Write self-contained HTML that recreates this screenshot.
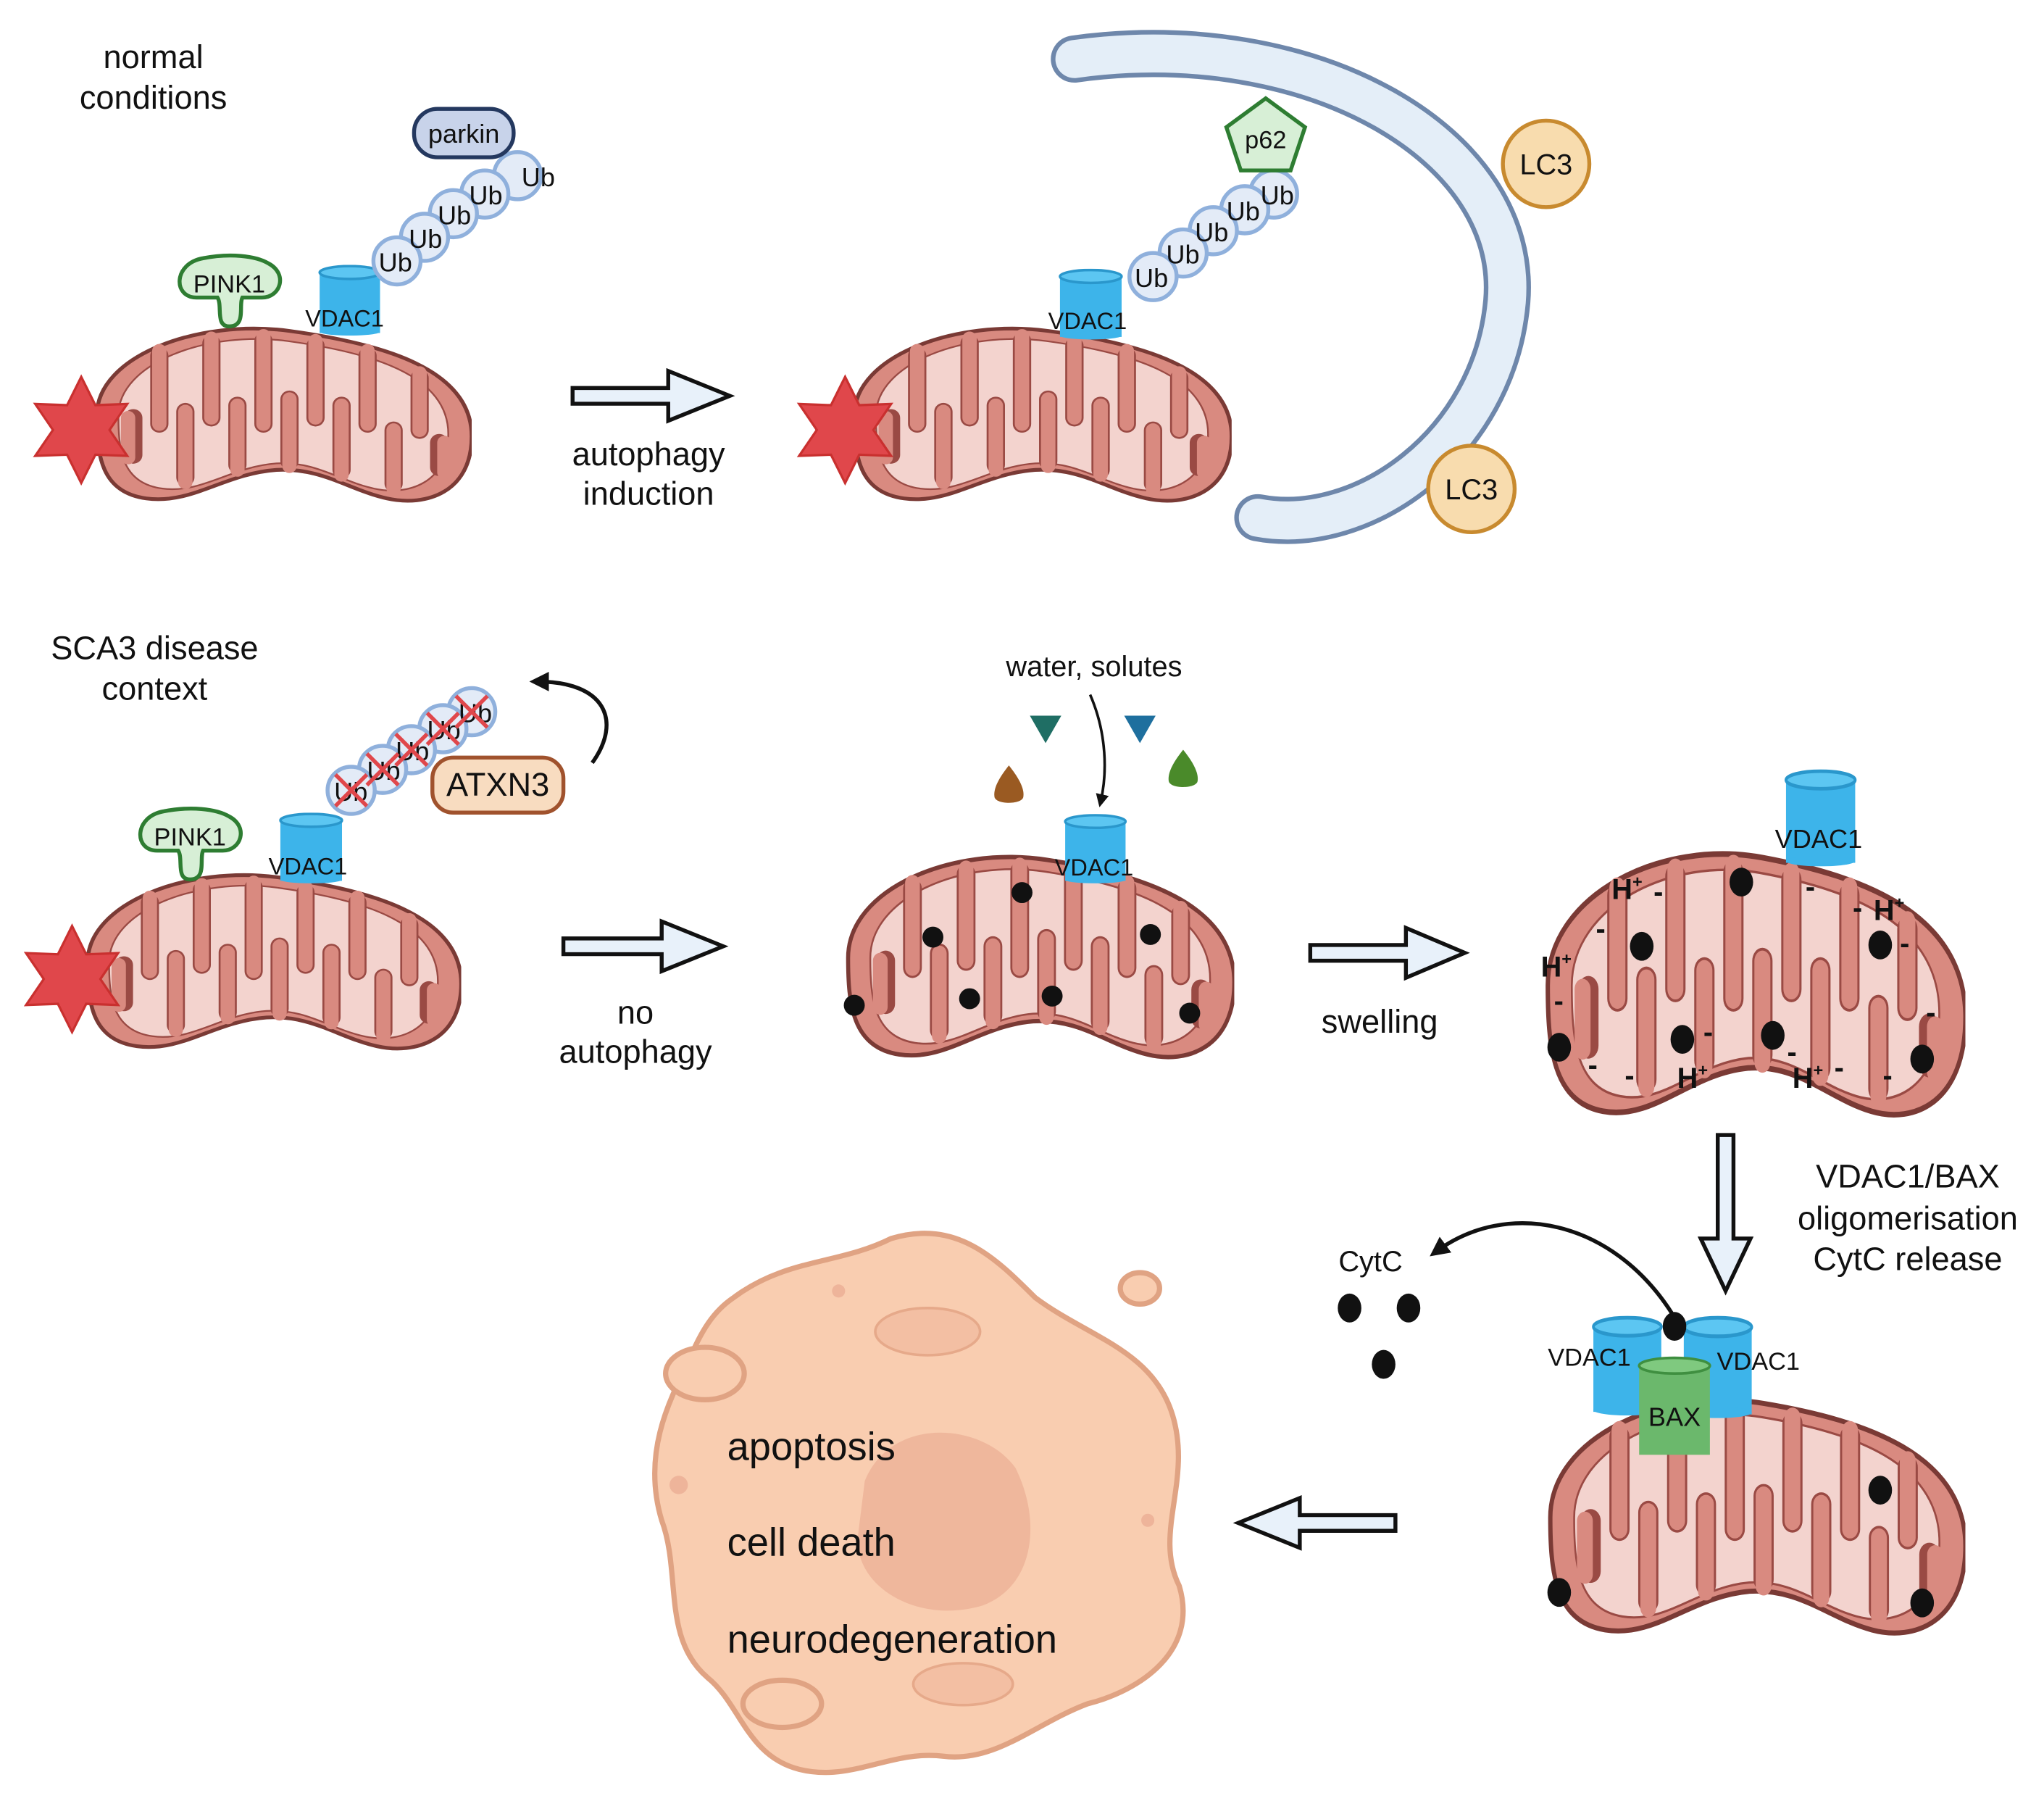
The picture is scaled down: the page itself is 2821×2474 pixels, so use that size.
<!DOCTYPE html>
<html><head><meta charset="utf-8"><style>
html,body{margin:0;padding:0;background:#fff}
svg{display:block}
text{font-family:"Liberation Sans",sans-serif;fill:#111}
</style></head><body>
<svg width="2821" height="2474" viewBox="0 0 1560 1368" xmlns="http://www.w3.org/2000/svg">
<defs>
<symbol id="mito" viewBox="0 0 300 150" preserveAspectRatio="none">
<path d="M12,78 C12,30 90,0 160,10 C230,20 300,40 300,95 C300,140 265,152 235,145 C205,138 185,120 150,122 C110,125 85,150 50,145 C15,140 12,110 12,78 Z" fill="#d98a80" stroke="#7a3a35" stroke-width="3"/>
<path transform="translate(18,9.4) scale(0.88)" d="M12,78 C12,30 90,0 160,10 C230,20 300,40 300,95 C300,140 265,152 235,145 C205,138 185,120 150,122 C110,125 85,150 50,145 C15,140 12,110 12,78 Z" fill="#f3d3ce" stroke="#9a4a44" stroke-width="1.5"/>
<g stroke-linecap="round" fill="none">
<g stroke="#9a4a44" stroke-width="14">
<path d="M60,30 V85 M100,20 V80 M140,18 V85 M180,22 V80 M220,30 V85 M260,48 V90 M40,80 V110 M80,128 V75 M120,118 V70 M160,115 V65 M200,122 V70 M240,133 V90 M275,120 V100"/>
</g>
<g stroke="#d98a80" stroke-width="11">
<path d="M60,26 V85 M100,16 V80 M140,14 V85 M180,18 V80 M220,26 V85 M260,44 V90 M36,80 V112 M80,132 V75 M120,122 V70 M160,119 V65 M200,126 V70 M240,137 V90 M279,124 V100"/>
</g>
</g>
</symbol>
<symbol id="star" viewBox="-50 -50 100 100">
<polygon points="0,-45 12,-21 39,-22 24,0 39,22 12,21 0,45 -12,21 -39,22 -24,0 -39,-22 -12,-21" fill="#e0474b" stroke="#c9302f" stroke-width="2"/>
</symbol>
<symbol id="vdac" viewBox="0 0 50 55" preserveAspectRatio="none">
<rect x="1" y="5" width="48" height="48" fill="#3db4ea"/>
<ellipse cx="25" cy="6" rx="24" ry="5" fill="#5cc6f2" stroke="#2a97cc" stroke-width="2"/>
<ellipse cx="25" cy="52" rx="24" ry="3" fill="#3db4ea"/>
</symbol>
<symbol id="pink" viewBox="0 0 90 60">
<path d="M20,34 C2,34 2,8 25,4 C45,0 65,2 75,8 C90,16 84,34 70,34 L55,34 C52,40 58,56 45,56 C34,56 40,40 36,34 Z" fill="#d7efd6" stroke="#2e7d32" stroke-width="3"/>
</symbol>
<marker id="ah" viewBox="0 0 10 10" refX="6" refY="5" markerWidth="5" markerHeight="5" orient="auto"><path d="M0,0 L10,5 L0,10 Z" fill="#111"/></marker>
</defs>

<text x="117" y="52" font-size="25" text-anchor="middle">normal</text>
<text x="117" y="83" font-size="25" text-anchor="middle">conditions</text>

<use href="#mito" x="62" y="243" width="298" height="142"/>
<use href="#star" x="17" y="283" width="90" height="90"/>
<use href="#pink" x="130" y="193" width="90" height="60"/>
<text x="175" y="223" font-size="19" text-anchor="middle">PINK1</text>
<use href="#vdac" x="243" y="202" width="48" height="54"/>
<text x="263" y="249" font-size="18" text-anchor="middle">VDAC1</text>
<g fill="#e3ebf7" stroke="#8fb0dc" stroke-width="3">
<circle cx="395" cy="134" r="18"/><circle cx="370" cy="148" r="18"/><circle cx="346" cy="163" r="18"/><circle cx="324" cy="181" r="18"/><circle cx="303" cy="199" r="18"/>
</g>
<g font-size="20"><text x="398" y="142">Ub</text><text x="358" y="156">Ub</text><text x="334" y="171">Ub</text><text x="312" y="189">Ub</text><text x="289" y="207">Ub</text></g>
<rect x="316" y="83" width="76" height="37" rx="18" fill="#c8d3ea" stroke="#24385f" stroke-width="3"/>
<text x="354" y="109" font-size="20" text-anchor="middle">parkin</text>

<path d="M437,296 H510 V283 L557,302 L510,321 V308 H437 Z" fill="#e8f1fa" stroke="#111" stroke-width="3"/>
<text x="495" y="355" font-size="25" text-anchor="middle">autophagy</text>
<text x="495" y="385" font-size="25" text-anchor="middle">induction</text>

<use href="#mito" x="640" y="243" width="300" height="142"/>
<use href="#star" x="600" y="283" width="90" height="90"/>
<use href="#vdac" x="808" y="205" width="49" height="54"/>
<text x="830" y="251" font-size="18" text-anchor="middle">VDAC1</text>
<path d="M820,45 C1000,20 1160,110 1150,230 C1140,340 1040,410 960,395" fill="none" stroke="#6e87ab" stroke-width="36" stroke-linecap="round"/>
<path d="M820,45 C1000,20 1160,110 1150,230 C1140,340 1040,410 960,395" fill="none" stroke="#e4eef8" stroke-width="29" stroke-linecap="round"/>
<g fill="#e3ebf7" stroke="#8fb0dc" stroke-width="3">
<circle cx="972" cy="148" r="18"/><circle cx="950" cy="160" r="18"/><circle cx="926" cy="176" r="18"/><circle cx="903" cy="193" r="18"/><circle cx="880" cy="211" r="18"/>
</g>
<g font-size="20"><text x="962" y="156">Ub</text><text x="936" y="168">Ub</text><text x="912" y="184">Ub</text><text x="890" y="201">Ub</text><text x="866" y="219">Ub</text></g>
<polygon points="966,75 996,97 985,130 947,130 936,97" fill="#d7efd6" stroke="#2e7d32" stroke-width="3"/>
<text x="966" y="113" font-size="19" text-anchor="middle">p62</text>
<circle cx="1180" cy="125" r="33" fill="#f8dcae" stroke="#c88a2f" stroke-width="3"/>
<text x="1180" y="133" font-size="22" text-anchor="middle">LC3</text>
<circle cx="1123" cy="373" r="33" fill="#f8dcae" stroke="#c88a2f" stroke-width="3"/>
<text x="1123" y="381" font-size="22" text-anchor="middle">LC3</text>

<text x="118" y="503" font-size="25" text-anchor="middle">SCA3 disease</text>
<text x="118" y="534" font-size="25" text-anchor="middle">context</text>
<use href="#mito" x="55" y="660" width="297" height="143"/>
<use href="#star" x="10" y="702" width="90" height="90"/>
<use href="#pink" x="100" y="615" width="90" height="60"/>
<text x="145" y="645" font-size="19" text-anchor="middle">PINK1</text>
<use href="#vdac" x="213" y="620" width="49" height="54"/>
<text x="235" y="667" font-size="18" text-anchor="middle">VDAC1</text>
<g fill="#e3ebf7" stroke="#8fb0dc" stroke-width="3">
<circle cx="360" cy="543" r="18"/><circle cx="338" cy="556" r="18"/><circle cx="314" cy="572" r="18"/><circle cx="292" cy="587" r="18"/><circle cx="268" cy="603" r="18"/>
</g>
<g font-size="20"><text x="350" y="551">Ub</text><text x="326" y="564">Ub</text><text x="302" y="580">Ub</text><text x="280" y="595">Ub</text><text x="255" y="611">Ub</text></g>
<g stroke="#e0474b" stroke-width="3">
<path d="M348,531 L372,555 M372,531 L348,555 M326,544 L350,568 M350,544 L326,568 M302,560 L326,584 M326,560 L302,584 M280,575 L304,599 M304,575 L280,599 M256,591 L280,615 M280,591 L256,615"/>
</g>
<rect x="330" y="578" width="100" height="42" rx="16" fill="#f8dcc0" stroke="#a0522d" stroke-width="3"/>
<text x="380" y="607" font-size="25" text-anchor="middle">ATXN3</text>
<path d="M452,582 C475,550 462,520 410,520" fill="none" stroke="#111" stroke-width="3" marker-end="url(#ah)"/>

<path d="M430,716 H505 V703 L552,722 L505,741 V728 H430 Z" fill="#e8f1fa" stroke="#111" stroke-width="3"/>
<text x="485" y="781" font-size="25" text-anchor="middle">no</text>
<text x="485" y="811" font-size="25" text-anchor="middle">autophagy</text>

<text x="835" y="516" font-size="22" text-anchor="middle">water, solutes</text>
<polygon points="786,546 810,546 798,567" fill="#1f6e64"/>
<polygon points="858,546 882,546 870,567" fill="#1e6f9e"/>
<path d="M770,584 C778,594 782,602 781,608 C780,614 760,614 759,608 C758,602 762,594 770,584 Z" fill="#9a5a22"/>
<path d="M903,572 C911,582 915,590 914,596 C913,602 893,602 892,596 C891,590 895,582 903,572 Z" fill="#4a8a2a"/>
<path d="M832,530 C845,560 845,590 840,612" fill="none" stroke="#111" stroke-width="2" marker-end="url(#ah)"/>
<use href="#mito" x="635" y="645" width="307" height="165"/>
<use href="#vdac" x="812" y="621" width="48" height="53"/>
<text x="835" y="668" font-size="18" text-anchor="middle">VDAC1</text>
<g fill="#111"><circle cx="780" cy="681" r="8"/><circle cx="712" cy="715" r="8"/><circle cx="878" cy="713" r="8"/><circle cx="652" cy="767" r="8"/><circle cx="740" cy="762" r="8"/><circle cx="803" cy="760" r="8"/><circle cx="908" cy="773" r="8"/></g>

<path d="M1000,721 H1073 V708 L1118,727 L1073,746 V733 H1000 Z" fill="#e8f1fa" stroke="#111" stroke-width="3"/>
<text x="1053" y="788" font-size="25" text-anchor="middle">swelling</text>

<use href="#mito" x="1168" y="640" width="332" height="215"/>
<use href="#vdac" x="1362" y="587" width="55" height="74"/>
<text x="1388" y="647" font-size="20" text-anchor="middle">VDAC1</text>
<g fill="#111"><ellipse cx="1329" cy="673" rx="9" ry="11"/><ellipse cx="1253" cy="722" rx="9" ry="11"/><ellipse cx="1435" cy="721" rx="9" ry="11"/><ellipse cx="1190" cy="799" rx="9" ry="11"/><ellipse cx="1284" cy="793" rx="9" ry="11"/><ellipse cx="1353" cy="790" rx="9" ry="11"/><ellipse cx="1467" cy="808" rx="9" ry="11"/></g>
<g font-size="22" font-weight="bold">
<text x="1230" y="686">H<tspan font-size="13" dy="-9">+</tspan></text>
<text x="1430" y="702">H<tspan font-size="13" dy="-9">+</tspan></text>
<text x="1176" y="745">H<tspan font-size="13" dy="-9">+</tspan></text>
<text x="1280" y="830">H<tspan font-size="13" dy="-9">+</tspan></text>
<text x="1368" y="830">H<tspan font-size="13" dy="-9">+</tspan></text>
<text x="1262" y="688">-</text><text x="1378" y="684">-</text><text x="1414" y="700">-</text><text x="1218" y="716">-</text><text x="1450" y="727">-</text><text x="1186" y="771">-</text><text x="1470" y="780">-</text><text x="1300" y="795">-</text><text x="1364" y="810">-</text><text x="1212" y="820">-</text><text x="1240" y="828">-</text><text x="1400" y="822">-</text><text x="1437" y="828">-</text>
</g>

<path d="M1311,866 H1323 V945 H1336 L1317,985 L1298,945 H1311 Z" fill="#e8f1fa" stroke="#111" stroke-width="3"/>
<text x="1456" y="906" font-size="25" text-anchor="middle">VDAC1/BAX</text>
<text x="1456" y="938" font-size="25" text-anchor="middle">oligomerisation</text>
<text x="1456" y="969" font-size="25" text-anchor="middle">CytC release</text>

<text x="1046" y="970" font-size="22" text-anchor="middle">CytC</text>
<g fill="#111"><ellipse cx="1030" cy="998" rx="9" ry="11"/><ellipse cx="1075" cy="998" rx="9" ry="11"/><ellipse cx="1056" cy="1041" rx="9" ry="11"/></g>
<path d="M1276,1002 C1230,930 1150,915 1096,955" fill="none" stroke="#111" stroke-width="3" marker-end="url(#ah)"/>

<use href="#mito" x="1170" y="1058" width="330" height="192"/>
<g fill="#111"><ellipse cx="1435" cy="1137" rx="9" ry="11"/><ellipse cx="1190" cy="1215" rx="9" ry="11"/><ellipse cx="1467" cy="1223" rx="9" ry="11"/></g>
<use href="#vdac" x="1215" y="1004" width="54" height="76"/>
<use href="#vdac" x="1284" y="1004" width="54" height="78"/>
<rect x="1251" y="1042" width="54" height="68" fill="#6bb86c"/>
<ellipse cx="1278" cy="1042" rx="27" ry="6" fill="#7fc97f" stroke="#3f8f40" stroke-width="2"/>
<text x="1278" y="1088" font-size="20" text-anchor="middle">BAX</text>
<ellipse cx="1278" cy="1012" rx="9" ry="11" fill="#111"/>
<text x="1213" y="1042" font-size="19" text-anchor="middle">VDAC1</text>
<text x="1342" y="1045" font-size="19" text-anchor="middle">VDAC1</text>

<path d="M1065,1156 H992 V1143 L945,1162 L992,1181 V1168 H1065 Z" fill="#e8f1fa" stroke="#111" stroke-width="3"/>

<path d="M560,990 C600,960 640,965 680,945 C730,930 760,960 790,990 C830,1020 880,1030 895,1080 C910,1130 880,1170 900,1210 C915,1260 870,1290 830,1300 C790,1315 760,1345 720,1340 C680,1335 650,1360 610,1350 C570,1340 565,1300 540,1280 C505,1250 520,1200 505,1160 C490,1110 510,1070 525,1040 C535,1015 545,1000 560,990 Z" fill="#f9cdb0" stroke="#e0a383" stroke-width="4"/>
<path d="M660,1130 C680,1080 750,1085 775,1120 C795,1160 790,1210 750,1225 C700,1240 650,1210 655,1170 Z" fill="#efb79c"/>
<ellipse cx="708" cy="1016" rx="40" ry="18" fill="#f3bfa3" stroke="#e6a98a" stroke-width="2"/>
<ellipse cx="735" cy="1285" rx="38" ry="16" fill="#f3bfa3" stroke="#e6a98a" stroke-width="2"/>
<ellipse cx="538" cy="1048" rx="30" ry="20" fill="#f9cdb0" stroke="#e0a383" stroke-width="4"/>
<ellipse cx="870" cy="983" rx="15" ry="12" fill="#f9cdb0" stroke="#e0a383" stroke-width="4"/>
<ellipse cx="597" cy="1300" rx="30" ry="18" fill="#f9cdb0" stroke="#e0a383" stroke-width="4"/>
<circle cx="518" cy="1133" r="7" fill="#eeb49a"/><circle cx="876" cy="1160" r="5" fill="#eeb49a"/><circle cx="640" cy="985" r="5" fill="#eeb49a"/>
<text x="555" y="1114" font-size="30">apoptosis</text>
<text x="555" y="1187" font-size="30">cell death</text>
<text x="555" y="1261" font-size="30">neurodegeneration</text>
</svg>
</body></html>
